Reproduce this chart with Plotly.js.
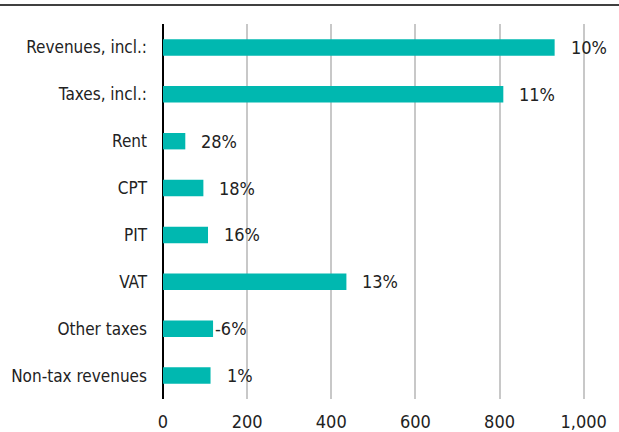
<!DOCTYPE html>
<html>
<head>
<meta charset="utf-8">
<script src="https://cdn.plot.ly/plotly-3.0.1.min.js"></script>
<style>html,body{margin:0;padding:0;background:#fff;}#chart{width:619px;height:432px;}</style>
</head>
<body>
<div id="chart"></div>
<script>
const categories = ["Revenues, incl.:", "Taxes, incl.:", "Rent", "CPT", "PIT", "VAT", "Other taxes", "Non-tax revenues"];
const values = [931, 809, 53, 96, 107, 436, 119, 113];
const growthLabels = ["10%", "11%", "28%", "18%", "16%", "13%", "-6%", "1%"];
const xTickVals = [0, 200, 400, 600, 800, 1000];
const xTickText = ["0", "200", "400", "600", "800", "1,000"];

const FONT = "'DejaVu Sans Condensed', 'Liberation Sans Narrow', sans-serif";
const TEXT = "#222222";

const annotations = categories.map((c, i) => ({
  x: values[i], y: c, xref: "x", yref: "y",
  text: growthLabels[i], showarrow: false,
  xanchor: "left", yanchor: "middle",
  xshift: growthLabels[i].startsWith("-") ? 0 : 14,
  font: {family: FONT, size: 18, color: TEXT}
}));

const trace = {
  type: "bar", orientation: "h",
  x: values, y: categories,
  marker: {color: "#00b8b0"},
  width: 0.35,
  hoverinfo: "skip"
};

const layout = {
  width: 619, height: 432,
  margin: {l: 163, r: 0, t: 24, b: 33},
  paper_bgcolor: "#ffffff", plot_bgcolor: "#ffffff",
  showlegend: false,
  font: {family: FONT, size: 17, color: TEXT},
  xaxis: {
    range: [0, 1084], tickvals: xTickVals, ticktext: xTickText,
    showgrid: true, gridcolor: "#c8c8c8", gridwidth: 2,
    zeroline: true, zerolinecolor: "#000000", zerolinewidth: 2,
    showline: false, ticks: "", ticklabelstandoff: 10,
    tickfont: {family: FONT, size: 18, color: TEXT},
    automargin: false, fixedrange: true
  },
  yaxis: {
    type: "category", autorange: false, range: [7.5, -0.5],
    categoryorder: "array", categoryarray: categories,
    showgrid: false, zeroline: false, showline: false, ticks: "",
    ticklabelstandoff: 15,
    tickfont: {family: FONT, size: 17, color: TEXT},
    automargin: false, fixedrange: true
  },
  annotations: annotations,
  shapes: [{
    type: "line", xref: "paper", yref: "paper",
    x0: -163/456, x1: 1, y0: 1 + 19/375, y1: 1 + 19/375,
    line: {color: "#000000", width: 1.5}
  }]
};

Plotly.newPlot("chart", [trace], layout, {displayModeBar: false, staticPlot: true});
</script>
</body>
</html>
